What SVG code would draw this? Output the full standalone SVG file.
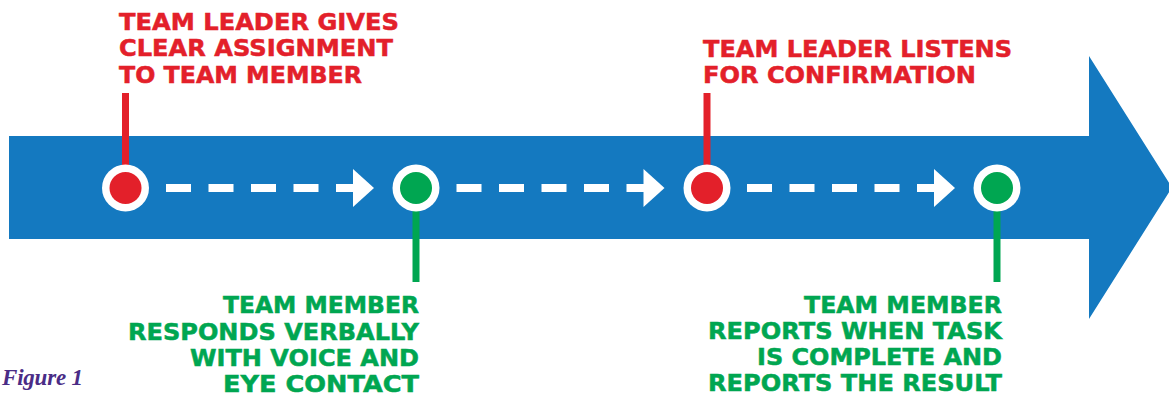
<svg xmlns="http://www.w3.org/2000/svg" width="1169" height="398" viewBox="0 0 1169 398">
<defs>
<style>
.lbl{font-family:"DejaVu Sans","Liberation Sans",sans-serif;font-weight:bold;font-size:23px;stroke-width:0.5}
.red{fill:#E3202A}
.lbl.red{stroke:#E3202A}
.grn{fill:#00A651}
.lbl.grn{stroke:#00A651}
.ring{fill:#FFFFFF}
.dash{stroke:#FFFFFF;stroke-width:8;stroke-dasharray:25 17.5;fill:none}
.head{fill:#FFFFFF}
.stemR{stroke:#E3202A;stroke-width:7}
.stemG{stroke:#00A651;stroke-width:7}
</style>
<g id="conn">
<line class="dash" x1="166" y1="188" x2="354" y2="188"/>
<polygon class="head" points="353,169 374,188 353,207"/>
</g>
</defs>
<rect width="1169" height="398" fill="#FFFFFF"/>
<g id="timeline-arrow">
<polygon fill="#1479C0" points="9,136 1089,136 1089,56 1172,187.5 1089,319 1089,239 9,239"/>
</g>
<g id="connectors">
<use href="#conn"/>
<use href="#conn" transform="translate(290.5,0)"/>
<use href="#conn" transform="translate(581,0)"/>
</g>
<g id="step1">
<line class="stemR" x1="125.5" y1="93" x2="125.5" y2="188"/>
<circle class="ring" cx="125.5" cy="188" r="23.5"/>
<circle class="red" cx="125.5" cy="188" r="16"/>
<text class="lbl red" x="119" y="29.5" textLength="280" lengthAdjust="spacingAndGlyphs">TEAM LEADER GIVES</text>
<text class="lbl red" x="119" y="56" textLength="274" lengthAdjust="spacingAndGlyphs">CLEAR ASSIGNMENT</text>
<text class="lbl red" x="119" y="82.7" textLength="243" lengthAdjust="spacingAndGlyphs">TO TEAM MEMBER</text>
</g>
<g id="step2">
<line class="stemG" x1="416" y1="188" x2="416" y2="282"/>
<circle class="ring" cx="416" cy="188" r="23.5"/>
<circle class="grn" cx="416" cy="188" r="16"/>
<text class="lbl grn" x="419" y="313" text-anchor="end" textLength="196" lengthAdjust="spacingAndGlyphs">TEAM MEMBER</text>
<text class="lbl grn" x="419" y="340" text-anchor="end" textLength="291" lengthAdjust="spacingAndGlyphs">RESPONDS VERBALLY</text>
<text class="lbl grn" x="419" y="366" text-anchor="end" textLength="229" lengthAdjust="spacingAndGlyphs">WITH VOICE AND</text>
<text class="lbl grn" x="419" y="392" text-anchor="end" textLength="196" lengthAdjust="spacingAndGlyphs">EYE CONTACT</text>
</g>
<g id="step3">
<line class="stemR" x1="707" y1="93" x2="707" y2="188"/>
<circle class="ring" cx="707" cy="188" r="23.5"/>
<circle class="red" cx="707" cy="188" r="16"/>
<text class="lbl red" x="703" y="56.5" textLength="309" lengthAdjust="spacingAndGlyphs">TEAM LEADER LISTENS</text>
<text class="lbl red" x="703" y="83" textLength="273" lengthAdjust="spacingAndGlyphs">FOR CONFIRMATION</text>
</g>
<g id="step4">
<line class="stemG" x1="997" y1="188" x2="997" y2="282"/>
<circle class="ring" cx="997" cy="188" r="23.5"/>
<circle class="grn" cx="997" cy="188" r="16"/>
<text class="lbl grn" x="1002" y="312.5" text-anchor="end" textLength="198" lengthAdjust="spacingAndGlyphs">TEAM MEMBER</text>
<text class="lbl grn" x="1002" y="339" text-anchor="end" textLength="294" lengthAdjust="spacingAndGlyphs">REPORTS WHEN TASK</text>
<text class="lbl grn" x="1002" y="365" text-anchor="end" textLength="245" lengthAdjust="spacingAndGlyphs">IS COMPLETE AND</text>
<text class="lbl grn" x="1002" y="391" text-anchor="end" textLength="294" lengthAdjust="spacingAndGlyphs">REPORTS THE RESULT</text>
</g>
<g id="caption">
<text x="2" y="385" font-family="Liberation Serif, serif" font-weight="bold" font-style="italic" font-size="23" fill="#4A2C86" textLength="81">Figure 1</text>
</g>
</svg>
